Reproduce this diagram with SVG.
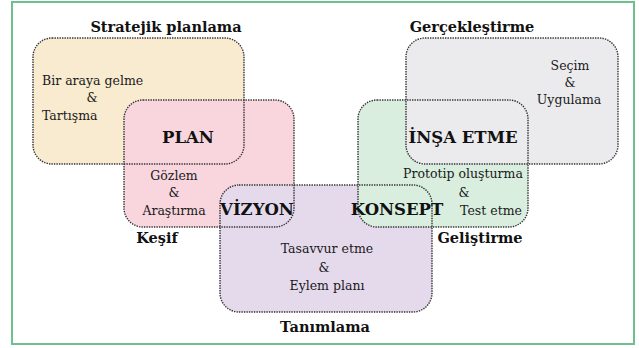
<svg xmlns="http://www.w3.org/2000/svg" width="639" height="348" viewBox="0 0 639 348">
<style>
.box{stroke:none}
.edge{fill:none;stroke:#333;stroke-width:1.4;stroke-dasharray:1.4 1.1}
text{font-family:"DejaVu Serif","Liberation Serif",serif;fill:#111}
.t{font-size:14.5px;font-weight:bold;text-anchor:middle}
.k{font-size:16.5px;font-weight:bold;text-anchor:middle}
.s{font-size:12.5px;text-anchor:middle;fill:#1a1a1a}
.l{text-anchor:start}
</style>
<rect x="12" y="2" width="622" height="342" fill="#fff" stroke="#6fbf8f" stroke-width="2"/>
<g id="fills">
<rect class="box" x="33" y="38" width="211" height="126" rx="19" fill="#f8ebcf"/>
<rect class="box" x="124" y="100" width="170" height="127" rx="19" fill="#f9d6de"/>
<rect class="box" x="220" y="185" width="212" height="127" rx="19" fill="#e5d9ec"/>
<rect class="box" x="358" y="100" width="170" height="127" rx="19" fill="#d9eedf"/>
<rect class="box" x="406" y="38" width="212" height="126" rx="19" fill="#ebebed"/>
</g>
<g id="strateji">
<rect class="edge" x="33" y="38" width="211" height="126" rx="19"/>
<text class="t" x="166" y="32">Stratejik planlama</text>
<text class="s l" x="42" y="85" style="text-anchor:start">Bir araya gelme</text>
<text class="s" x="92" y="102">&amp;</text>
<text class="s" x="42" y="120" style="text-anchor:start">Tartışma</text>
</g>
<g id="kesif">
<rect class="edge" x="124" y="100" width="170" height="127" rx="19"/>
<text class="k" x="188" y="143">PLAN</text>
<text class="s" x="174" y="180">Gözlem</text>
<text class="s" x="174" y="197">&amp;</text>
<text class="s" x="174" y="215">Araştırma</text>
<text class="t" x="157" y="243">Keşif</text>
</g>
<g id="tanimlama">
<rect class="edge" x="220" y="185" width="212" height="127" rx="19"/>
<text class="k" x="257" y="215">VİZYON</text>
<text class="s" x="327" y="253">Tasavvur etme</text>
<text class="s" x="324" y="272">&amp;</text>
<text class="s" x="327" y="290">Eylem planı</text>
<text class="t" x="325" y="332">Tanımlama</text>
</g>
<g id="gelistirme">
<rect class="edge" x="358" y="100" width="170" height="127" rx="19"/>
<text class="k" x="397" y="215">KONSEPT</text>
<text class="s" x="463" y="178">Prototip oluşturma</text>
<text class="s" x="464" y="197">&amp;</text>
<text class="s" x="491" y="215">Test etme</text>
<text class="t" x="480" y="243">Geliştirme</text>
</g>
<g id="gerceklestirme">
<rect class="edge" x="406" y="38" width="212" height="126" rx="19"/>
<text class="k" x="463" y="143">İNŞA ETME</text>
<text class="s" x="570" y="70">Seçim</text>
<text class="s" x="570" y="87">&amp;</text>
<text class="s" x="569" y="104">Uygulama</text>
<text class="t" x="472" y="32">Gerçekleştirme</text>
</g>
</svg>
